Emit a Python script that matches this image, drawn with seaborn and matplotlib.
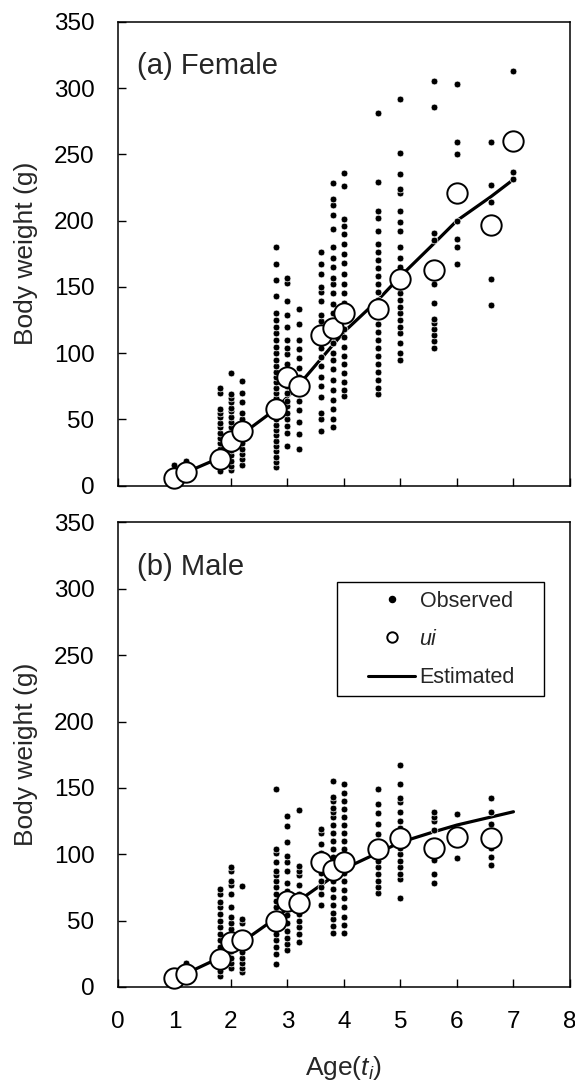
import matplotlib
matplotlib.use("Agg")
import matplotlib.pyplot as plt
from matplotlib.lines import Line2D
from matplotlib.patches import Rectangle
import numpy as np
import pandas as pd
import seaborn as sns

# ---------------- data ----------------
ages = [1.0, 1.2, 1.8, 2.0, 2.2, 2.8, 3.0, 3.2, 3.6, 3.8, 4.0, 4.6, 5.0, 5.6, 6.0, 6.6, 7.0]

female_ui = [6, 10, 20, 34, 41, 58, 82, 75, 114, 119, 130, 133, 156, 163, 221, 197, 260]
female_est = [6, 10, 21, 30, 39, 58, 67, 76, 96, 106, 116, 140, 158, 183, 200, 218, 231]
female_obs = [
    [4, 8, 12, 16],
    [8, 12, 16, 19],
    [11, 15, 20, 25, 28, 32, 36, 40, 44, 47, 52, 55, 58, 70, 74],
    [12, 15, 19, 23, 27, 31, 36, 40, 44, 48, 52, 56, 59, 63, 66, 69, 85],
    [16, 20, 24, 28, 32, 38, 45, 50, 55, 63, 70, 79],
    [14, 18, 22, 26, 30, 34, 38, 42, 46, 50, 54, 58, 62, 66, 70, 74, 78, 82, 86, 90,
     95, 100, 105, 110, 115, 120, 125, 130, 143, 155, 167, 180],
    [30, 40, 45, 50, 55, 60, 64, 70, 75, 85, 92, 99, 104, 110, 120, 129, 139, 153, 157],
    [28, 39, 48, 57, 64, 70, 76, 82, 89, 96, 103, 110, 122, 133],
    [41, 50, 55, 67, 75, 82, 90, 97, 104, 110, 124, 129, 139, 146, 150, 160, 167, 176],
    [44, 50, 58, 65, 72, 80, 88, 95, 100, 108, 115, 122, 130, 137, 145, 152, 157, 165,
     172, 180, 194, 204, 212, 216, 228],
    [68, 72, 78, 85, 92, 98, 105, 112, 118, 125, 132, 138, 145, 152, 160, 168, 175, 182,
     190, 196, 201, 226, 236],
    [69, 74, 80, 86, 92, 98, 104, 110, 116, 122, 128, 134, 140, 146, 152, 158, 164, 170,
     176, 182, 192, 202, 207, 229, 281],
    [95, 100, 108, 115, 120, 125, 130, 135, 140, 145, 150, 158, 165, 172, 180, 192, 199,
     207, 221, 224, 235, 251, 292],
    [104, 109, 114, 118, 123, 126, 138, 152, 185, 191, 286, 305],
    [167, 180, 186, 200, 250, 259, 303],
    [136, 156, 214, 227, 259],
    [231, 237, 313],
]

male_ui_ages = [1.0, 1.2, 1.8, 2.0, 2.2, 2.8, 3.0, 3.2, 3.6, 3.8, 4.0, 4.6, 5.0, 5.6, 6.0, 6.6]
male_ui = [7, 10, 21, 34, 35, 50, 65, 63, 94, 88, 94, 104, 112, 105, 113, 112]
male_est = [6, 10, 22, 28, 34, 52, 59, 65, 77, 83, 89, 101, 109, 117, 122, 128, 132]
male_obs = [
    [5, 8, 12],
    [10, 14, 18],
    [8, 12, 16, 20, 25, 30, 35, 40, 45, 50, 55, 60, 64, 70, 74],
    [14, 18, 22, 27, 32, 38, 44, 48, 53, 60, 70, 77, 80, 87, 90],
    [11, 14, 18, 22, 26, 30, 35, 40, 48, 51, 76],
    [17, 25, 30, 35, 40, 45, 50, 55, 60, 65, 70, 75, 80, 84, 87, 94, 101, 104, 149],
    [28, 32, 37, 42, 48, 54, 60, 66, 72, 78, 87, 94, 99, 109, 121, 129],
    [34, 40, 45, 50, 55, 62, 70, 77, 84, 87, 91, 133],
    [62, 70, 75, 80, 86, 92, 97, 101, 108, 116, 119],
    [41, 46, 51, 56, 62, 68, 74, 80, 86, 92, 98, 104, 110, 116, 122, 128, 132, 135, 140,
     143, 155],
    [41, 47, 53, 60, 67, 73, 80, 86, 92, 98, 104, 110, 116, 122, 128, 134, 140, 146, 153],
    [71, 75, 80, 85, 90, 95, 100, 108, 115, 123, 131, 138, 149],
    [67, 81, 85, 90, 95, 100, 105, 110, 115, 120, 125, 132, 139, 142, 153, 167],
    [78, 85, 96, 110, 118, 125, 128, 132],
    [97, 130],
    [92, 98, 105, 123, 132, 142],
]

x_ticks = [0, 1, 2, 3, 4, 5, 6, 7, 8]
y_ticks = [0, 50, 100, 150, 200, 250, 300, 350]
panel_titles = ["(a) Female", "(b) Male"]
legend_labels = ["Observed", "ui", "Estimated"]


def obs_frame(age_list, obs_lists):
    rows = []
    for a, vals in zip(age_list, obs_lists):
        for v in vals:
            rows.append((a, v))
    return pd.DataFrame(rows, columns=["age", "weight"])


# ---------------- style ----------------
sns.set_style("ticks")
plt.rcParams["font.family"] = ["Liberation Sans", "DejaVu Sans"]
plt.rcParams["mathtext.fontset"] = "custom"
plt.rcParams["mathtext.rm"] = "Liberation Sans"
plt.rcParams["mathtext.it"] = "Liberation Sans:italic"

fig = plt.figure(figsize=(5.75, 10.92), dpi=100)
ax_top = fig.add_axes([0.2052, 0.5552, 0.786, 0.4249])
ax_bot = fig.add_axes([0.2052, 0.0962, 0.786, 0.4254])

panels = [
    (ax_top, ages, female_obs, ages, female_ui, female_est),
    (ax_bot, ages[:16], male_obs, male_ui_ages, male_ui, male_est),
]

for i, (ax, oages, obs, uages, ui, est) in enumerate(panels):
    df_obs = obs_frame(oages, obs)
    df_ui = pd.DataFrame({"age": uages, "weight": ui})
    df_est = pd.DataFrame({"age": ages, "weight": est})

    sns.lineplot(data=df_est, x="age", y="weight", ax=ax, color="black",
                 linewidth=2.3, zorder=1, legend=False)
    sns.scatterplot(data=df_obs, x="age", y="weight", ax=ax, color="black",
                    s=24, edgecolor="white", linewidth=0.5, zorder=2, legend=False,
                    clip_on=False)
    sns.scatterplot(data=df_ui, x="age", y="weight", ax=ax, color="white",
                    s=215, edgecolor="black", linewidth=1.4, zorder=3, legend=False,
                    clip_on=False)

    ax.set_xlim(0, 8)
    ax.set_ylim(0, 350)
    ax.set_xticks(x_ticks)
    ax.set_yticks(y_ticks)
    for sp in ax.spines.values():
        sp.set_visible(True)
        sp.set_linewidth(1.1)
        sp.set_color("black")
    ax.tick_params(direction="in", length=6, width=1.0, pad=17, labelsize=17.5,
                   colors="black")
    ax.set_ylabel("Body weight (g)", fontsize=19)
    ax.yaxis.set_label_coords(-0.178, 0.5)
    ax.text(0.041, 0.905, panel_titles[i], transform=ax.transAxes,
            fontsize=21, ha="left", va="center")

ax_top.set_xlabel("")
ax_top.tick_params(labelbottom=False)
ax_bot.set_xlabel(r"Age($t_i$)", fontsize=19)
ax_bot.xaxis.set_label_coords(0.5, -0.145)

handles = [
    Line2D([], [], linestyle="none", marker="o", markersize=4.4,
           markerfacecolor="black", markeredgecolor="black"),
    Line2D([], [], linestyle="none", marker="o", markersize=7.5,
           markerfacecolor="white", markeredgecolor="black", markeredgewidth=1.4),
    Line2D([], [], color="black", linewidth=2.2),
]
leg = ax_bot.legend(handles, legend_labels, loc="upper left",
                    bbox_to_anchor=(0.553, 0.853), borderaxespad=0,
                    frameon=False, fontsize=15.5, borderpad=0,
                    handlelength=2.2, handletextpad=0.2, labelspacing=0.8)
leg.get_texts()[1].set_fontstyle("italic")

# legend frame box
ax_bot.add_patch(Rectangle((0.4852, 0.6265), 0.942 - 0.4852, 0.8726 - 0.6265,
                           transform=ax_bot.transAxes, fill=False,
                           edgecolor="black", linewidth=1.0, zorder=5))

fig.savefig("out.png", dpi=100)
